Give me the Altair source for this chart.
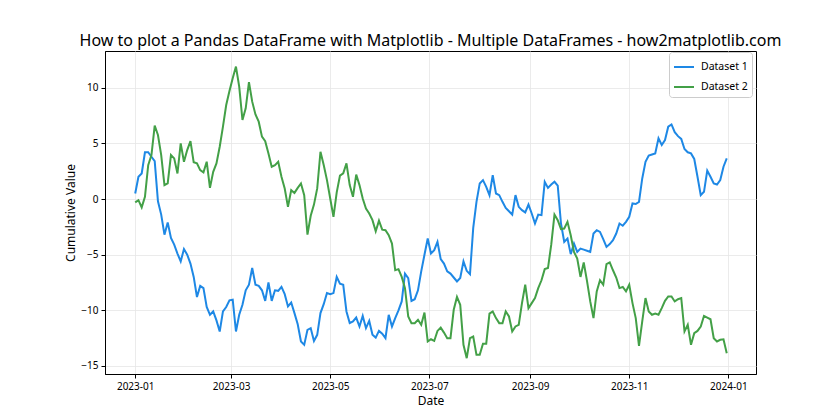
import altair as alt
import pandas as pd

series_names = ["Dataset 1", "Dataset 2"]
series_colors = ["#1E88E5", "#43A047"]
start_date = "2023-01-01"
step_days = 2

dataset1 = [
    0.5, 2.0, 2.3, 4.2, 4.2, 3.8, 3.4, -0.2, -1.4, -3.2,
    -2.1, -3.5, -4.1, -4.9, -5.6, -4.5, -5.0, -5.8, -7.0, -8.8,
    -7.8, -8.0, -9.7, -10.4, -10.1, -10.9, -11.9, -10.1, -9.7, -9.1,
    -9.05, -11.9, -10.4, -9.5, -8.2, -7.7, -6.2, -7.7, -7.8, -8.2,
    -9.15, -7.5, -9.15, -8.2, -8.25, -7.9, -8.55, -9.65, -9.3, -10.25,
    -11.25, -12.8, -13.1, -11.75, -11.6, -12.75, -12.2, -10.25, -9.45, -8.45,
    -8.55, -8.45, -7.0, -7.6, -7.7, -10.1, -11.15, -11.0, -10.65, -11.45,
    -10.5, -11.6, -10.95, -12.2, -12.45, -11.85, -12.1, -12.5, -10.4, -11.45,
    -10.7, -10.0, -9.2, -6.7, -7.1, -9.15, -9.0, -8.2, -6.5, -5.0,
    -3.55, -4.9, -4.6, -3.85, -5.4, -5.8, -6.5, -6.7, -7.05, -7.4,
    -7.1, -5.6, -6.45, -6.75, -2.6, -0.25, 1.4, 1.7, 1.1, 0.35,
    2.15, 0.5, 0.35, -0.25, -0.8, -1.1, -1.4, 0.35, -0.7, -1.0,
    -1.2, -0.5, -1.3, -2.2, -1.4, -1.45, 1.55, 1.0, 1.3, 1.55,
    1.2, -2.2, -3.85, -3.55, -4.95, -4.0, -4.75, -4.45, -4.55, -4.65,
    -4.75, -3.1, -2.8, -2.95, -3.6, -4.3, -4.05, -3.7, -3.1, -2.2,
    -2.4, -2.05, -1.6, -0.4, -0.45, -0.25, 1.85, 3.35, 3.9, 4.0,
    4.1, 5.45, 4.85, 5.3, 6.5, 6.7, 6.0, 5.65, 5.4, 4.5,
    4.2, 4.1, 3.6, 2.0, 0.35, 0.65, 2.55, 2.0, 1.4, 1.3,
    1.7, 2.9, 3.65,
]

dataset2 = [
    -0.3, -0.1, -0.75, 0.2, 3.05, 3.95, 6.6, 5.75, 3.95, 1.25,
    1.4, 3.95, 3.65, 2.3, 5.0, 3.35, 4.4, 5.2, 3.3, 3.2,
    2.6, 2.4, 3.35, 1.0, 2.45, 3.2, 4.7, 6.5, 8.45, 9.7,
    10.85, 11.9, 10.1, 7.1, 8.15, 10.5, 8.75, 7.6, 6.95, 5.6,
    5.2, 4.1, 2.9, 3.05, 3.35, 2.0, 0.95, -0.7, 0.8, 0.55,
    1.0, 1.4, 0.35, -3.2, -1.5, -0.5, 0.95, 4.25, 3.05, 1.7,
    0.05, -1.6, 0.6, 2.1, 2.3, 3.2, 1.25, 0.2, 2.2, 1.25,
    0.05, -0.85, -1.3, -1.9, -2.9, -1.95, -2.75, -2.8, -3.25, -4.0,
    -6.4, -6.3, -7.0, -8.0, -10.55, -11.15, -11.15, -10.85, -11.3, -10.2,
    -12.8, -12.6, -12.75, -11.85, -11.55, -12.0, -12.5, -12.5, -9.95, -8.8,
    -9.5, -13.1, -14.3, -12.5, -12.35, -14.0, -14.0, -13.0, -13.0, -10.3,
    -10.1, -10.7, -11.15, -11.15, -10.1, -10.55, -11.9, -11.45, -11.3, -9.35,
    -7.7, -9.8, -9.35, -8.9, -8.0, -7.3, -6.3, -6.2, -4.1, -1.4,
    -1.9, -2.7, -2.65, -2.05, -3.25, -4.75, -5.35, -7.0, -5.7, -7.35,
    -9.2, -10.7, -8.3, -7.3, -7.7, -5.85, -5.7, -6.4, -7.05, -8.0,
    -7.9, -8.3, -7.7, -9.35, -10.7, -13.2, -11.0, -8.9, -10.1, -10.4,
    -10.3, -10.4, -9.8, -9.15, -8.75, -8.75, -9.2, -9.0, -8.9, -11.9,
    -11.3, -13.1, -12.05, -11.85, -11.45, -10.5, -10.65, -10.8, -12.5, -12.8,
    -12.65, -12.6, -13.85,
]

x_tick_months = [(2023, 1), (2023, 3), (2023, 5), (2023, 7), (2023, 9), (2023, 11), (2024, 1)]
y_ticks = [-15, -10, -5, 0, 5, 10]

dates = pd.date_range(start_date, periods=len(dataset1), freq=f"{step_days}D")
date_str = [d.strftime("%Y-%m-%dT%H:%M:%S") for d in dates]
df = pd.DataFrame({
    "Date": date_str + date_str,
    "Value": dataset1 + dataset2,
    "Series": [series_names[0]] * len(dataset1) + [series_names[1]] * len(dataset2),
})

FONT = "Noto Sans"

x_enc = alt.X(
    "Date:T",
    title="Date",
    scale=alt.Scale(
        domain=[alt.DateTime(year=2022, month=12, date=13, hours=10),
                alt.DateTime(year=2024, month=1, date=18)],
        nice=False,
    ),
    axis=alt.Axis(
        values=[alt.DateTime(year=y, month=m, date=1) for y, m in x_tick_months],
        format="%Y-%m",
        labelFlush=False,
        labelOverlap=False,
        titlePadding=4,
    ),
)
y_enc = alt.Y(
    "Value:Q",
    title="Cumulative Value",
    scale=alt.Scale(domain=[-15.72, 13.3], nice=False, zero=False),
    axis=alt.Axis(values=y_ticks, titlePadding=3),
)

chart = alt.Chart(df).mark_line(strokeWidth=2).encode(
    x=x_enc,
    y=y_enc,
    color=alt.Color(
        "Series:N",
        scale=alt.Scale(domain=series_names, range=series_colors),
        legend=alt.Legend(
            title=None,
            orient="none",
            legendX=564,
            legendY=1,
            symbolType="stroke",
            symbolSize=400,
            symbolStrokeWidth=2,
            labelFontSize=10.5,
            labelFont=FONT,
            labelColor="black",
            labelOffset=6,
            rowPadding=3,
            padding=4,
            fillColor="white",
            strokeColor="#cccccc",
            cornerRadius=3,
        ),
    ),
    detail="Series:N",
).properties(
    width=651,
    height=323,
    title=alt.TitleParams(
        "How to plot a Pandas DataFrame with Matplotlib - Multiple DataFrames - how2matplotlib.com",
        fontSize=16,
        font=FONT,
        fontWeight="normal",
        color="black",
        anchor="middle",
        baseline="alphabetic",
        offset=6,
        dy=17,
    ),
    autosize=alt.AutoSizeParams(type="none"),
    padding={"left": 105, "top": 51, "right": 84, "bottom": 46},
).configure_view(
    stroke="black", strokeWidth=1
).configure_axis(
    labelFont=FONT,
    labelFontSize=10,
    labelColor="black",
    titleFont=FONT,
    titleFontSize=12,
    titleFontWeight="normal",
    titleColor="black",
    domainColor="black",
    domainWidth=1,
    tickColor="black",
    tickSize=4,
    labelPadding=3,
    gridColor="#e6e6e6",
    gridWidth=0.8,
)

chart.save("out.html", embed_options={"renderer": "svg", "actions": False})
